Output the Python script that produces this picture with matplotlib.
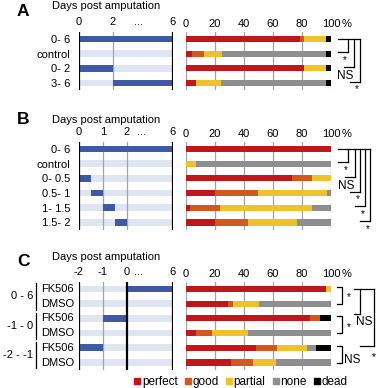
import numpy as np
import matplotlib
matplotlib.use("Agg")
import matplotlib.pyplot as plt
import matplotlib.transforms as mtransforms
from matplotlib.lines import Line2D

plt.rcParams['font.family'] = ['Liberation Sans', 'DejaVu Sans']
plt.rcParams['font.size'] = 8

# ============================================================
# DATA
# ============================================================

categories = ["perfect", "good", "partial", "none", "dead"]
cat_colors = ["#c1161c", "#d2581e", "#efc12a", "#8e8e8e", "#000000"]

# panel A
a_rows = ["0- 6", "control", "0- 2", "3- 6"]
a_start = [0, np.nan, 0, 2]
a_end = [6, np.nan, 2, 6]
a_days = [0, 2, 6]
a_pct = [
    [78.7, 2.7, 15.2, 0.0, 3.4],
    [4.4, 8.2, 12.6, 71.4, 3.4],
    [81.7, 0.0, 14.9, 0.0, 3.4],
    [6.9, 0.0, 17.2, 72.5, 3.4],
]
a_sig = [(0, 1, "*"), (0, 2, "NS"), (0, 3, "*")]

# panel B
b_rows = ["0- 6", "control", "0- 0.5", "0.5- 1", "1- 1.5", "1.5- 2"]
b_start = [0, np.nan, 0, 0.5, 1, 1.5]
b_end = [6, np.nan, 0.5, 1, 1.5, 2]
b_days = [0, 1, 2, 6]
b_pct = [
    [100.0, 0.0, 0.0, 0.0, 0.0],
    [0.0, 0.0, 6.9, 93.1, 0.0],
    [73.2, 13.7, 13.1, 0.0, 0.0],
    [20.0, 30.0, 47.0, 3.0, 0.0],
    [3.0, 20.6, 63.3, 13.1, 0.0],
    [20.0, 23.1, 33.7, 23.2, 0.0],
]
b_sig = [(0, 1, "*"), (0, 2, "NS"), (0, 3, "*"), (0, 4, "*"), (0, 5, "*")]

# panel C
c_groups = ["0 - 6", "-1 - 0", "-2 - -1"]
c_treat = ["FK506", "DMSO"]
c_start = [0, np.nan, -1, np.nan, -2, np.nan]
c_end = [6, np.nan, 0, np.nan, -1, np.nan]
c_days = [-2, -1, 0, 6]
c_pct = [
    [96.6, 0.0, 3.4, 0.0, 0.0],
    [28.9, 3.4, 18.2, 49.5, 0.0],
    [85.6, 6.8, 0.0, 0.0, 7.6],
    [7.1, 10.8, 25.2, 56.9, 0.0],
    [48.4, 14.2, 20.7, 6.4, 10.3],
    [31.0, 15.6, 15.3, 38.1, 0.0],
]
c_sig_pairs = [(0, 1, "*"), (2, 3, "*"), (4, 5, "NS")]
c_sig_span = [(0, 2, "NS"), (0, 4, "*")]

pct_ticks = [0, 20, 40, 60, 80, 100]

# ============================================================
# LAYOUT (pixels)
# ============================================================

W, H = 376, 388
LX0, LX1 = 79, 173
RX0, RX1 = 185.7, 331
ROW = 14.7

BLUE = "#3c5aa6"
STRIPE = "#dfe6f2"
GREY = "#a3a3a3"

fig = plt.figure(figsize=(W / 100, H / 100), dpi=100)


def px_axes(x0, x1, top, bottom):
    return fig.add_axes([x0 / W, 1 - bottom / H, (x1 - x0) / W, (bottom - top) / H])


def fig_text(x, y, s, **kw):
    fig.text(x / W, 1 - y / H, s, **kw)


def day_axis(ax, days, pos, dots_at):
    fwd = lambda x: np.interp(x, days, pos)
    inv = lambda p: np.interp(p, pos, days)
    ax.set_xscale("function", functions=(fwd, inv))
    ax.set_xlim(days[0], days[-1])
    ax.xaxis.tick_top()
    dots = float(inv(dots_at))
    ticks = sorted(list(days) + [dots])
    ax.set_xticks(ticks)
    ax.set_xticklabels(["..." if t == dots else str(t) for t in ticks])
    ax.tick_params(axis="x", length=0, pad=3, labelsize=8)
    for d in days:
        dark = d in (days[0], 0, days[-1])
        ax.axvline(d, color="black" if dark else GREY,
                   lw=1.6 if dark else 0.9, zorder=3 if dark else 1)
    for sp in ax.spines.values():
        sp.set_visible(False)


def timeline(ax, start, end, days):
    n = len(start)
    y = np.arange(n)
    ax.barh(y, days[-1] - days[0], left=days[0], height=0.45,
            color=STRIPE, zorder=0)
    s = np.array(start, float)
    e = np.array(end, float)
    ok = ~np.isnan(s)
    ax.barh(y[ok], e[ok] - s[ok], left=s[ok], height=0.45,
            color=BLUE, zorder=2)
    ax.set_ylim(n - 0.5, -0.5)


def outcome(ax, pct):
    pct = np.array(pct)
    n = len(pct)
    y = np.arange(n)
    left = np.zeros(n)
    for k in range(len(categories)):
        ax.barh(y, pct[:, k], left=left, height=0.42,
                color=cat_colors[k], zorder=2)
        left += pct[:, k]
    ax.set_xlim(0, 100)
    ax.set_ylim(n - 0.5, -0.5)
    ax.xaxis.tick_top()
    ax.set_xticks(pct_ticks)
    ax.tick_params(axis="x", length=0, pad=2, labelsize=8)
    ax.set_yticks([])
    for t in pct_ticks:
        ax.axvline(t, color=GREY, lw=0.9, zorder=1)
    for sp in ax.spines.values():
        sp.set_visible(False)
    ax.annotate("%", xy=(fx(347), 1.0), xycoords="axes fraction",
                xytext=(0, 2), textcoords="offset points",
                ha="center", va="bottom", fontsize=8)


def fx(ax_px):
    return (ax_px - RX0) / (RX1 - RX0)


def ladder(ax, sig, x_first, step):
    tr = mtransforms.blended_transform_factory(ax.transAxes, ax.transData)
    kw = dict(color="black", lw=0.9, transform=tr, clip_on=False)
    xs = [x_first + (k * step if k == 0 else 1.5 + k * step) for k in range(len(sig))]
    ax.plot([fx(338), fx(xs[-1])], [0, 0], **kw)
    for k, (r0, r1, lab) in enumerate(sig):
        xv = xs[k]
        yb = r1 - 0.1
        ax.plot([fx(xv), fx(xv)], [r0, yb], **kw)
        ax.plot([fx(xv - 10), fx(xv)], [yb, yb], **kw)
        if lab == "*":
            ax.text(fx(xv - 2.5), yb + 0.2, "*", transform=tr, ha="center",
                    va="top", fontsize=7)
        else:
            ax.text(fx(xv - 9), yb + 0.2, lab, transform=tr, ha="center",
                    va="top", fontsize=8.5)


# ============================================================
# PANEL A
# ============================================================

n = len(a_rows)
top = 39 - ROW / 2
bot = top + n * ROW
axl = px_axes(LX0, LX1, top, bot)
day_axis(axl, a_days, [0, 34 / 94, 1], 0.628)
timeline(axl, a_start, a_end, a_days)
axl.set_yticks(range(n))
axl.set_yticklabels(a_rows)
axl.tick_params(axis="y", length=0, pad=6, labelsize=8)

axr = px_axes(RX0, RX1, top, bot)
outcome(axr, a_pct)
ladder(axr, a_sig, 347.7, 5.2)

fig_text(17, 12, "A", fontsize=12.5, fontweight="bold", va="center")
fig_text(52, 6, "Days post amputation", va="center")

# ============================================================
# PANEL B
# ============================================================

n = len(b_rows)
top = 149 - ROW / 2
bot = top + n * ROW
axl = px_axes(LX0, LX1, top, bot)
day_axis(axl, b_days, [0, 24 / 94, 48 / 94, 1], 0.67)
timeline(axl, b_start, b_end, b_days)
axl.set_yticks(range(n))
axl.set_yticklabels(b_rows)
axl.tick_params(axis="y", length=0, pad=6, labelsize=8)

axr = px_axes(RX0, RX1, top, bot)
outcome(axr, b_pct)
ladder(axr, b_sig, 348.3, 5.0)

fig_text(17, 120, "B", fontsize=12.5, fontweight="bold", va="center")
fig_text(52, 120, "Days post amputation", va="center")

# ============================================================
# PANEL C
# ============================================================

n = len(c_start)
top = 289 - ROW / 2
bot = top + n * ROW
axl = px_axes(LX0, LX1, top, bot)
day_axis(axl, c_days, [0, 24 / 94, 48 / 94, 1], 0.628)
timeline(axl, c_start, c_end, c_days)
axl.set_yticks([])

trl = mtransforms.blended_transform_factory(axl.transAxes, axl.transData)
lx = lambda p: (p - LX0) / (LX1 - LX0)
for g, name in enumerate(c_groups):
    for j, t in enumerate(c_treat):
        axl.text(lx(41), 2 * g + j, t, transform=trl, ha="left", va="center")
    axl.text(lx(33), 2 * g + 0.5, name, transform=trl, ha="right", va="center")
    axl.plot([lx(36), lx(36)], [2 * g - 0.4, 2 * g + 1.4], color="black",
             lw=0.9, transform=trl, clip_on=False)

axr = px_axes(RX0, RX1, top, bot)
outcome(axr, c_pct)
trr = mtransforms.blended_transform_factory(axr.transAxes, axr.transData)
kw = dict(color="black", lw=0.9, transform=trr, clip_on=False)
for r0, r1, lab in c_sig_pairs:
    ya, yb = r0 - 0.15, r1
    axr.plot([fx(336.7), fx(341.7), fx(341.7), fx(336.7)], [ya, ya, yb, yb], **kw)
    if lab == "*":
        axr.text(fx(348.3), (ya + yb) / 2 + 0.15, "*", transform=trr,
                 ha="center", va="center", fontsize=7)
    else:
        axr.text(fx(344), yb - 0.15, lab, transform=trr, ha="left",
                 va="center", fontsize=8.5)

(r0, r1, lab1), (_, r2, lab2) = c_sig_span
axr.plot([fx(354), fx(374)], [r0, r0], **kw)
axr.plot([fx(360), fx(360)], [r0, r1 - 0.27], **kw)
axr.plot([fx(354), fx(360)], [r1 - 0.27, r1 - 0.27], **kw)
axr.text(fx(364), r1 + 0.25, lab1, transform=trr, ha="center", va="center",
         fontsize=8.5)
axr.plot([fx(374), fx(374)], [r0, r2 - 0.15], **kw)
axr.plot([fx(360), fx(374)], [r2 - 0.15, r2 - 0.15], **kw)
axr.text(fx(374), r2 + 0.3, lab2, transform=trr, ha="center", va="top",
         fontsize=7)

fig_text(17, 262, "C", fontsize=12.5, fontweight="bold", va="center")
fig_text(52, 257.5, "Days post amputation", va="center")

# ============================================================
# LEGEND
# ============================================================

handles = [
    Line2D([], [], marker="s", linestyle="none", markersize=4.5,
           markerfacecolor=c, markeredgecolor=c)
    for c in cat_colors
]
fig.legend(handles, categories, loc="center", ncol=5,
           bbox_to_anchor=(241 / W, 1 - 382 / H), frameon=False,
           handlelength=0.5, handletextpad=0.15, columnspacing=0.6,
           fontsize=8.5, borderaxespad=0, borderpad=0)

fig.savefig("out.png", dpi=100)
